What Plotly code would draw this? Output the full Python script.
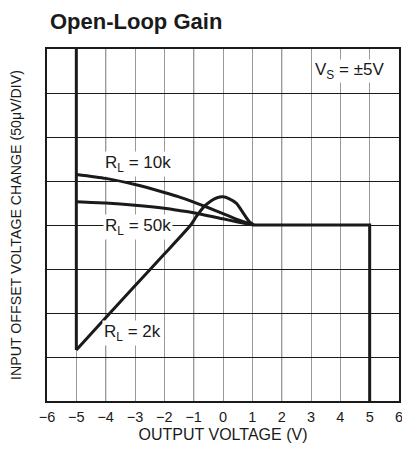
import plotly.graph_objects as go

# ---- data (x: output voltage V, y: divisions of 50 µV) ----
X_TICKS = [-6, -5, -4, -3, -2, -1, 0, 1, 2, 3, 4, 5, 6]
X_TICK_LABELS = ["\u22126", "\u22125", "\u22124", "\u22123", "\u22122", "\u22121",
                 "0", "1", "2", "3", "4", "5", "6"]
BLACK_GRID_X = [-4, -1, 2]

X_10K = [-5, -4, -3, -2, -1.5, -1, -0.6, 0, 0.5, 1.05]
Y_10K = [5.15, 5.06, 4.92, 4.74, 4.64, 4.52, 4.42, 4.26, 4.12, 4.0]

X_50K = [-5, -4, -3, -2, -1.5, -1, 0, 0.5, 1.05]
Y_50K = [4.53, 4.5, 4.45, 4.38, 4.33, 4.28, 4.14, 4.07, 4.0]

X_2K = [-5, -4, -3, -2, -1.1, -0.9, -0.67, -0.4, -0.2, 0, 0.2, 0.46, 0.69, 0.9, 1.05]
Y_2K = [1.16, 1.89, 2.62, 3.34, 4.0, 4.2, 4.4, 4.55, 4.62, 4.64, 4.6, 4.49, 4.27, 4.07, 4.0]

# common parts of the trace: negative rail and positive clipped part
RAIL_NEG_X = [-5, -5]
RAIL_NEG_Y = [8, 1.16]
COMMON_X = [1.05, 5, 5]
COMMON_Y = [4.0, 4.0, 0]

FONT = "Liberation Sans, Arial, sans-serif"
TITLE_FONT = "Liberation Sans, Arial, sans-serif"

# page body adds an 8px offset; figure coordinates are compensated for it
W, H = 402, 450

fig = go.Figure()
line_style = dict(color="#1a1a1a", width=3)
fig.add_trace(go.Scatter(x=RAIL_NEG_X, y=RAIL_NEG_Y, mode="lines", line=line_style))
fig.add_trace(go.Scatter(x=X_10K, y=Y_10K, mode="lines", line=dict(line_style, shape="spline", smoothing=0.6)))
fig.add_trace(go.Scatter(x=X_50K, y=Y_50K, mode="lines", line=dict(line_style, shape="spline", smoothing=0.6)))
fig.add_trace(go.Scatter(x=X_2K, y=Y_2K, mode="lines", line=dict(line_style, shape="spline", smoothing=0.6)))
fig.add_trace(go.Scatter(x=COMMON_X, y=COMMON_Y, mode="lines", line=line_style))

for gx in BLACK_GRID_X:
    fig.add_shape(type="line", xref="x", yref="paper", x0=gx, x1=gx, y0=0, y1=1,
                  line=dict(color="#1a1a1a", width=1), layer="below")

ann_font = dict(family=FONT, size=17, color="#1a1a1a")
labels = [
    ("R<sub>L</sub> = 10k", -2.9, 5.38),
    ("R<sub>L</sub> = 50k", -2.9, 3.96),
    ("R<sub>L</sub> = 2k", -3.07, 1.55),
]
for txt, ax, ay in labels:
    fig.add_annotation(x=ax, y=ay, text=txt, showarrow=False, font=ann_font,
                       bgcolor="white", borderpad=1, xanchor="center", yanchor="middle")
fig.add_annotation(x=4.3, y=7.5, text="V<sub>S</sub> = \u00b15V", showarrow=False,
                   font=ann_font, bgcolor="white", borderpad=0,
                   xanchor="center", yanchor="middle")

fig.update_layout(
    width=W, height=H,
    margin=dict(l=39, r=11, t=41, b=57, autoexpand=False),
    paper_bgcolor="white", plot_bgcolor="white",
    showlegend=False,
    title=dict(text="<b>Open-Loop Gain</b>", xref="container", yref="container",
               x=42 / W, xanchor="left", y=1 - 13 / H, yanchor="middle",
               font=dict(family=TITLE_FONT, size=22, color="#1a1a1a")),
    xaxis=dict(range=[-6, 6], tickvals=X_TICKS, ticktext=X_TICK_LABELS,
               showgrid=True, gridcolor="#999999", gridwidth=1,
               showline=True, linecolor="#1a1a1a", linewidth=1.5, mirror=True,
               ticks="", zeroline=False, ticklabelstandoff=2,
               tickfont=dict(family=FONT, size=14.5, color="#1a1a1a"),
               title=dict(text="OUTPUT VOLTAGE (V)", standoff=5,
                          font=dict(family=FONT, size=16, color="#1a1a1a")),
               fixedrange=True),
    yaxis=dict(range=[0, 8], dtick=1, showticklabels=False,
               showgrid=True, gridcolor="#1a1a1a", gridwidth=1,
               showline=True, linecolor="#1a1a1a", linewidth=1.5, mirror=True,
               ticks="", zeroline=False,
               title=dict(text="INPUT OFFSET VOLTAGE CHANGE (50\u03bcV/DIV)", standoff=23,
                          font=dict(family=FONT, size=14.2, color="#1a1a1a")),
               fixedrange=True),
)

fig.write_html("out.html")
